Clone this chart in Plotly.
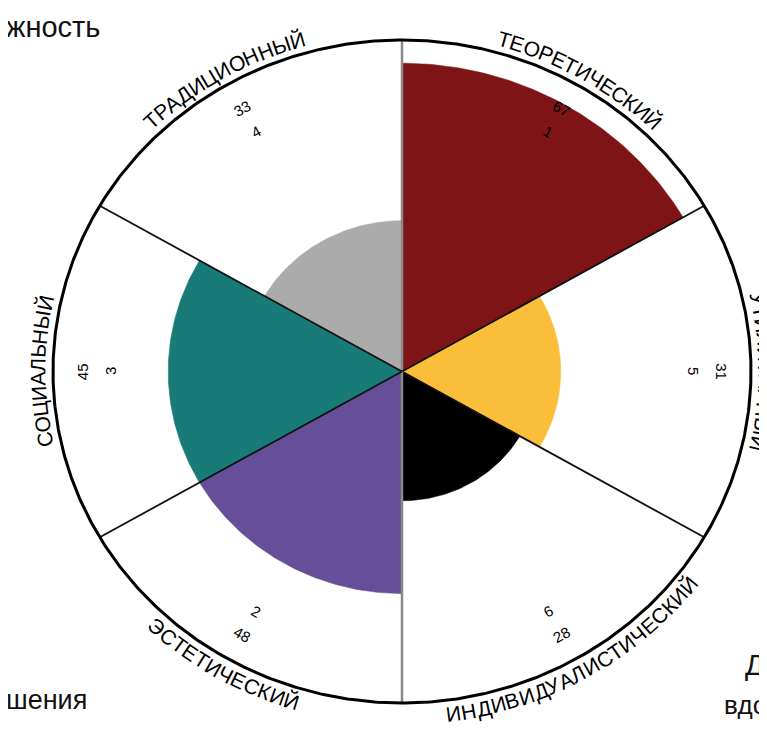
import math
import numpy as np
import plotly.graph_objects as go

# ---------------- data ----------------
categories = ["ТЕОРЕТИЧЕСКИЙ", "УТИЛИТАРНЫЙ", "ИНДИВИДУАЛИСТИЧЕСКИЙ",
              "ЭСТЕТИЧЕСКИЙ", "СОЦИАЛЬНЫЙ", "ТРАДИЦИОННЫЙ"]
bar_values = [93, 45.5, 39, 67, 67, 45.5]
outer_numbers = ["67", "31", "28", "48", "45", "33"]
inner_numbers = ["1", "5", "6", "2", "3", "4"]
bar_colors = ["#7E1416", "#FBBE3B", "#000000", "#654F98", "#187B78", "#ABABAB"]
corner_texts = ["жность", "шения", "Д", "вдо"]

# ---------------- geometry ----------------
W, H = 767, 730
CX, CY = 394.0, 363.5          # centre in px
RX, RY = 349.0, 331.5          # px per 100 units
R_MAX = 100
FONT = "Liberation Sans, Arial, sans-serif"

n = len(categories)
step = 360.0 / n

x_range = [-(CX / RX) * 100, ((W - CX) / RX) * 100]
y_range = [-((H - CY) / RY) * 100, (CY / RY) * 100]


def pt(r, deg):
    t = math.radians(deg)
    return r * math.sin(t), r * math.cos(t)


def tangent(deg):
    t = math.radians(deg)
    return math.degrees(math.atan2(RY * math.sin(t), RX * math.cos(t)))


def norm(a):
    while a > 180:
        a -= 360
    while a <= -180:
        a += 360
    return a


fig = go.Figure()

# sectors
for i in range(n):
    th = np.radians(np.linspace(i * step, (i + 1) * step, 90))
    r = bar_values[i]
    xs = np.concatenate([[0], r * np.sin(th), [0]])
    ys = np.concatenate([[0], r * np.cos(th), [0]])
    fig.add_trace(go.Scatter(x=xs, y=ys, mode="lines", fill="toself",
                             fillcolor=bar_colors[i], line=dict(width=0.5, color=bar_colors[i]),
                             hoverinfo="skip", showlegend=False))

# divider lines
for i in range(n):
    deg = i * step
    x1, y1 = pt(R_MAX, deg)
    vertical = abs(math.sin(math.radians(deg))) < 1e-6
    fig.add_trace(go.Scatter(x=[0, x1], y=[0, y1], mode="lines",
                             line=dict(color="#8a8a8a" if vertical else "#111111",
                                       width=2.5 if vertical else 1.8),
                             hoverinfo="skip", showlegend=False))

# outer ring
th = np.radians(np.linspace(0, 360, 721))
fig.add_trace(go.Scatter(x=R_MAX * np.sin(th), y=R_MAX * np.cos(th), mode="lines",
                         line=dict(color="#000000", width=3),
                         hoverinfo="skip", showlegend=False))

annotations = []

# numbers inside sectors
for i in range(n):
    mid = (i + 0.5) * step
    top = math.cos(math.radians(mid)) > -0.01
    ang = norm(tangent(mid) if top else tangent(mid) - 180)
    for txt, rr in ((outer_numbers[i], 91.5), (inner_numbers[i], 83.5)):
        x, y = pt(rr, mid)
        annotations.append(dict(x=x, y=y, xref="x", yref="y", text=txt, showarrow=False,
                                textangle=ang, xanchor="center", yanchor="middle",
                                font=dict(family=FONT, size=15, color="#000000")))

# curved category labels, one annotation per letter
CW = {"А": .667, "Б": .656, "В": .667, "Г": .542, "Д": .698, "Е": .667, "Ж": .906,
      "З": .6, "И": .722, "Й": .722, "К": .583, "Л": .656, "М": .833, "Н": .722,
      "О": .778, "П": .722, "Р": .667, "С": .722, "Т": .61, "У": .635, "Ф": .76,
      "Х": .667, "Ц": .74, "Ч": .667, "Ш": .917, "Щ": .938, "Ь": .656, "Ы": .885,
      "Э": .719, "Ю": 1.02, "Я": .722}
LABEL_FS = 21
LABEL_R = 104.3
for i, label in enumerate(categories):
    mid = (i + 0.5) * step
    top = math.cos(math.radians(mid)) > -0.01
    t = math.radians(mid)
    scale = (LABEL_R / 100.0) * math.sqrt((RX * math.cos(t)) ** 2 + (RY * math.sin(t)) ** 2)
    widths = [CW.get(c, .65) * LABEL_FS for c in label]
    total = sum(widths)
    cum = 0.0
    for c, w in zip(label, widths):
        off = math.degrees((cum + w / 2 - total / 2) / scale)
        deg = mid + off if top else mid - off
        cum += w
        ang = norm(tangent(deg) if top else tangent(deg) - 180)
        x, y = pt(LABEL_R, deg)
        annotations.append(dict(x=x, y=y, xref="x", yref="y", text=c, showarrow=False,
                                textangle=ang, xanchor="center", yanchor="middle",
                                font=dict(family=FONT, size=LABEL_FS, color="#000000")))

# cropped fragments of surrounding text
corner_pos = [(-4, 19, 29), (-4, 692, 27), (735, 657, 29), (714, 697, 26)]
for txt, (px, py, fs) in zip(corner_texts, corner_pos):
    annotations.append(dict(x=px / W, y=1 - py / H, xref="paper", yref="paper", text=txt,
                            showarrow=False, xanchor="left", yanchor="middle",
                            font=dict(family=FONT, size=fs, color="#111111")))

fig.update_layout(
    width=W, height=H, margin=dict(l=0, r=0, t=0, b=0),
    paper_bgcolor="white", plot_bgcolor="white",
    xaxis=dict(range=x_range, visible=False, fixedrange=True),
    yaxis=dict(range=y_range, visible=False, fixedrange=True),
    annotations=annotations, showlegend=False,
)

fig.write_html("out.html")
